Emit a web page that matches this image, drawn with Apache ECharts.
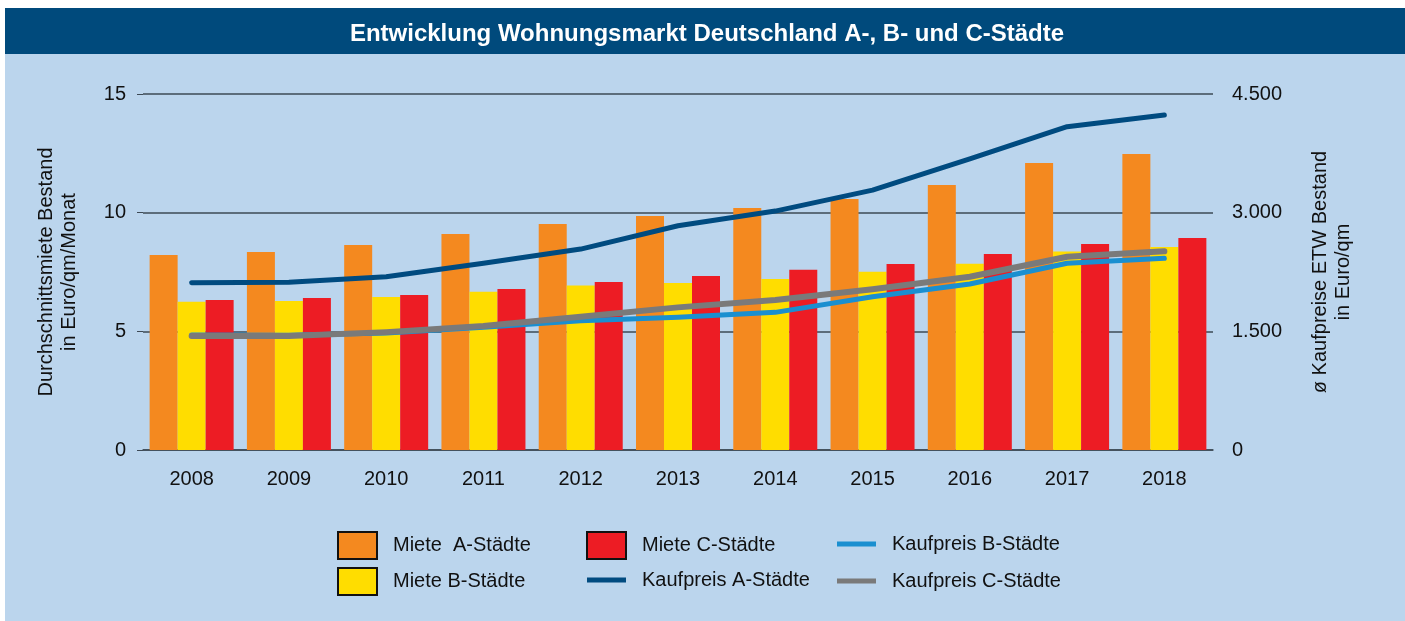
<!DOCTYPE html>
<html>
<head>
<meta charset="utf-8">
<script src="https://cdn.jsdelivr.net/npm/echarts@6/dist/echarts.min.js"></script>
<style>
  html, body { margin: 0; padding: 0; background: #fff; }
  #chart { width: 1405px; height: 621px; }
</style>
</head>
<body>
<div id="chart"></div>
<script>
// Jahre
var years = ['2008', '2009', '2010', '2011', '2012', '2013', '2014', '2015', '2016', '2017', '2018'];

// Miete in Euro/qm/Monat (linke Achse)
var mieteA = [8.22, 8.34, 8.64, 9.10, 9.52, 9.86, 10.20, 10.58, 11.17, 12.09, 12.47];
var mieteB = [6.25, 6.28, 6.45, 6.67, 6.93, 7.04, 7.21, 7.51, 7.85, 8.36, 8.55];
var mieteC = [6.32, 6.40, 6.53, 6.78, 7.08, 7.33, 7.59, 7.84, 8.26, 8.68, 8.93];

// Kaufpreis ETW in Euro/qm (rechte Achse)
var kaufA = [2115, 2120, 2190, 2360, 2540, 2835, 3020, 3285, 3680, 4087, 4235];
var kaufB = [1455, 1450, 1480, 1550, 1634, 1677, 1740, 1938, 2098, 2360, 2423];
var kaufC = [1441, 1440, 1490, 1567, 1685, 1803, 1896, 2031, 2190, 2443, 2511];

var FONT = 'Liberation Sans';
var chart = echarts.init(document.getElementById('chart'));

// Legende: drei Spalten mit je zwei Einträgen
function legendBox(left, top, gap, names) {
  return {
    orient: 'vertical',
    left: left,
    top: top,
    padding: 0,
    itemWidth: 39,
    itemHeight: 27,
    itemGap: gap,
    textStyle: { fontFamily: FONT, fontSize: 20, color: '#111', padding: [0, 0, 0, 11] },
    data: names
  };
}

var boxStyle = { borderColor: '#111', borderWidth: 2 };
var lineIcon = 'path://M0,0H39V5H0Z';

var option = {
  backgroundColor: '#fff',
  animation: false,
  graphic: [
    { type: 'rect', shape: { x: 5, y: 54, width: 1400, height: 567 }, style: { fill: '#bbd5ed' }, z: -10 },
    { type: 'rect', shape: { x: 5, y: 8, width: 1400, height: 46 }, style: { fill: '#004a7c' }, z: -10 }
  ],
  title: {
    text: 'Entwicklung Wohnungsmarkt Deutschland A-, B- und C-Städte',
    left: 702,
    top: 17,
    textAlign: 'center',
    textStyle: { fontFamily: FONT, fontSize: 24, fontWeight: 'bold', color: '#fff' }
  },
  legend: [
    legendBox(337, 531, 7, [
      { name: 'Miete  A-Städte', icon: 'rect', itemStyle: boxStyle },
      { name: 'Miete B-Städte', icon: 'rect', itemStyle: boxStyle }
    ]),
    legendBox(586, 531, 10, [
      { name: 'Miete C-Städte', icon: 'rect', itemStyle: boxStyle },
      { name: 'Kaufpreis A-Städte', icon: lineIcon, itemStyle: { color: '#004b80', borderWidth: 0 } }
    ]),
    legendBox(837, 534, 17, [
      { name: 'Kaufpreis B-Städte', icon: lineIcon, itemStyle: { color: '#1a8fd0', borderWidth: 0 } },
      { name: 'Kaufpreis C-Städte', icon: lineIcon, itemStyle: { color: '#7a7a7a', borderWidth: 0 } }
    ])
  ],
  grid: { left: 143, right: 192, top: 94, bottom: 171 },
  xAxis: {
    type: 'category',
    data: years,
    axisLine: { lineStyle: { color: '#3d4a55', width: 1.5 } },
    axisTick: { show: false },
    axisLabel: { fontFamily: FONT, fontSize: 20, color: '#111', margin: 19 }
  },
  yAxis: [
    {
      type: 'value',
      min: 0,
      max: 15,
      interval: 5,
      name: 'Durchschnittsmiete Bestand\nin Euro/qm/Monat',
      nameLocation: 'middle',
      nameRotate: 90,
      nameGap: 62,
      nameTextStyle: { fontFamily: FONT, fontSize: 20, color: '#111', lineHeight: 23 },
      axisLine: { show: false },
      axisTick: { show: true, length: 6, lineStyle: { color: '#3d4a55' } },
      axisLabel: { fontFamily: FONT, fontSize: 20, color: '#111', margin: 17 },
      splitLine: { lineStyle: { color: '#3d4a55', width: 1.5 } }
    },
    {
      type: 'value',
      min: 0,
      max: 4500,
      interval: 1500,
      name: 'ø Kaufpreise ETW Bestand\nin Euro/qm',
      nameLocation: 'middle',
      nameRotate: 90,
      nameGap: 96,
      nameTextStyle: { fontFamily: FONT, fontSize: 20, color: '#111', lineHeight: 23 },
      axisLine: { show: false },
      axisTick: { show: false },
      axisLabel: {
        fontFamily: FONT, fontSize: 20, color: '#111', margin: 19,
        formatter: function (v) { return v === 0 ? '0' : (v / 1000).toFixed(3); }
      },
      splitLine: { show: false }
    }
  ],
  series: [
    { name: 'Miete  A-Städte', type: 'bar', data: mieteA, barWidth: 28, barGap: '0%', itemStyle: { color: '#f4891f' } },
    { name: 'Miete B-Städte', type: 'bar', data: mieteB, barWidth: 28, barGap: '0%', itemStyle: { color: '#ffdd00' } },
    { name: 'Miete C-Städte', type: 'bar', data: mieteC, barWidth: 28, barGap: '0%', itemStyle: { color: '#ed1c24' } },
    {
      name: 'Kaufpreis B-Städte', type: 'line', yAxisIndex: 1, data: kaufB, symbol: 'none',
      lineStyle: { color: '#1a8fd0', width: 5, cap: 'round', join: 'round' }, itemStyle: { color: '#1a8fd0' }
    },
    {
      name: 'Kaufpreis C-Städte', type: 'line', yAxisIndex: 1, data: kaufC, symbol: 'none',
      lineStyle: { color: '#7a7a7a', width: 6, cap: 'round', join: 'round' }, itemStyle: { color: '#7a7a7a' }
    },
    {
      name: 'Kaufpreis A-Städte', type: 'line', yAxisIndex: 1, data: kaufA, symbol: 'none',
      lineStyle: { color: '#004b80', width: 5, cap: 'round', join: 'round' }, itemStyle: { color: '#004b80' }
    }
  ]
};

chart.setOption(option);
</script>
</body>
</html>
